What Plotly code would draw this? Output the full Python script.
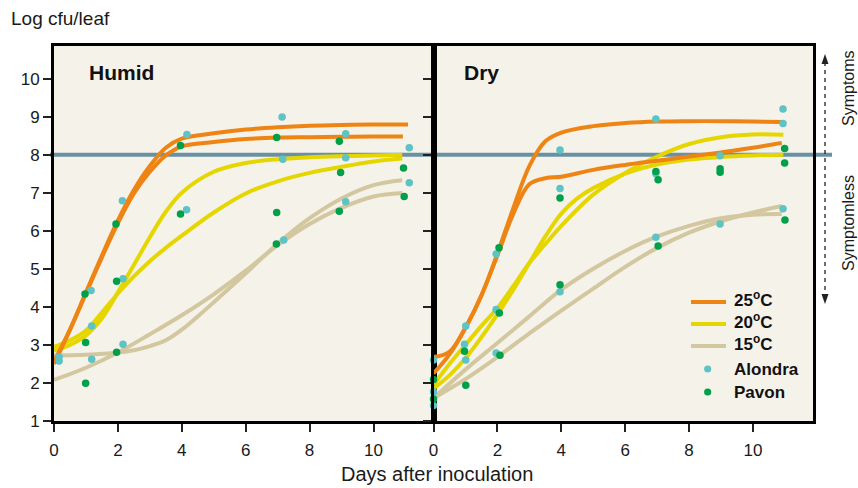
import plotly.graph_objects as go

# ---------------- data ----------------
# Humid panel: fitted curves (two per temperature)
humid_25a_x = [0, 0.5, 1, 1.5, 2, 2.5, 3, 3.5, 4, 5, 6, 7, 8, 9, 10, 11.08]
humid_25a_y = [2.5, 3.4, 4.38, 5.35, 6.27, 7.07, 7.7, 8.18, 8.42, 8.56, 8.66, 8.72, 8.76, 8.78, 8.79, 8.79]
humid_25b_x = [0, 0.5, 1, 1.5, 2, 2.5, 3, 3.5, 4, 5, 6, 7, 8, 9, 10, 10.92]
humid_25b_y = [2.55, 3.4, 4.35, 5.3, 6.2, 6.98, 7.55, 7.98, 8.22, 8.33, 8.41, 8.45, 8.46, 8.47, 8.48, 8.48]
humid_20a_x = [0, 0.5, 1, 1.5, 2, 2.5, 3, 3.5, 4, 5, 6, 7, 8, 9, 10, 10.9]
humid_20a_y = [2.85, 3.0, 3.25, 3.7, 4.38, 5.1, 5.83, 6.5, 7.0, 7.55, 7.78, 7.88, 7.93, 7.96, 7.98, 8.0]
humid_20b_x = [0, 0.5, 1, 1.5, 2, 2.5, 3, 3.5, 4, 5, 6, 7, 8, 9, 10, 10.9]
humid_20b_y = [2.95, 3.12, 3.38, 3.85, 4.35, 4.8, 5.2, 5.55, 5.87, 6.48, 6.98, 7.3, 7.52, 7.68, 7.82, 7.9]
humid_15a_x = [0, 1, 2, 2.5, 3, 3.5, 4, 4.5, 5, 6, 7, 8, 9, 10, 10.9]
humid_15a_y = [2.72, 2.74, 2.8, 2.86, 2.97, 3.12, 3.4, 3.75, 4.12, 4.88, 5.66, 6.33, 6.85, 7.2, 7.33]
humid_15b_x = [0, 1, 2, 3, 4, 5, 6, 7, 8, 9, 10, 10.9]
humid_15b_y = [2.08, 2.4, 2.8, 3.28, 3.78, 4.33, 4.95, 5.62, 6.18, 6.6, 6.9, 6.99]

# Dry panel: fitted curves
dry_25a_x = [0, 0.5, 1, 1.5, 2, 2.5, 3, 3.5, 4, 5, 6, 7, 8, 9, 10, 10.95]
dry_25a_y = [2.25, 2.75, 3.45, 4.3, 5.4, 6.6, 7.7, 8.35, 8.58, 8.75, 8.83, 8.87, 8.88, 8.88, 8.87, 8.86]
dry_25b_x = [0, 0.5, 1, 1.5, 2, 2.5, 3, 3.5, 4, 5, 6, 7, 8, 9, 10, 10.9]
dry_25b_y = [2.68, 2.82, 3.45, 4.3, 5.35, 6.45, 7.22, 7.38, 7.42, 7.6, 7.73, 7.84, 7.95, 8.06, 8.18, 8.31]
dry_20a_x = [0, 0.5, 1, 1.5, 2, 2.5, 3, 3.5, 4, 4.5, 5, 6, 7, 8, 9, 10, 10.95]
dry_20a_y = [1.85, 2.2, 2.65, 3.2, 3.8, 4.45, 5.15, 5.85, 6.45, 6.85, 7.12, 7.5, 7.74, 7.87, 7.94, 7.98, 8.0]
dry_20b_x = [0, 0.5, 1, 1.5, 2, 2.5, 3, 3.5, 4, 5, 6, 7, 8, 9, 10, 10.95]
dry_20b_y = [1.95, 2.5, 3.0, 3.5, 3.97, 4.55, 5.15, 5.65, 6.13, 6.95, 7.52, 7.95, 8.28, 8.46, 8.53, 8.52]
dry_15a_x = [0, 1, 2, 3, 4, 5, 6, 7, 8, 9, 10, 10.9]
dry_15a_y = [1.6, 2.35, 3.05, 3.75, 4.45, 5.0, 5.47, 5.85, 6.13, 6.33, 6.42, 6.44]
dry_15b_x = [0, 1, 2, 3, 4, 5, 6, 7, 8, 9, 10, 10.9]
dry_15b_y = [1.6, 2.1, 2.68, 3.3, 3.9, 4.48, 5.05, 5.55, 5.95, 6.25, 6.48, 6.65]

# Observations (days after inoculation as plotted, log cfu/leaf)
humid_alondra_x = [0.16, 0.16, 1.16, 1.18, 1.18, 2.14, 2.16, 2.16, 4.16, 4.15, 7.14, 7.16, 7.19, 9.13, 9.13, 9.13, 11.12, 11.12]
humid_alondra_y = [2.68, 2.58, 4.43, 3.5, 2.62, 6.79, 4.74, 3.02, 8.53, 6.55, 8.99, 7.88, 5.76, 8.55, 7.92, 6.76, 8.18, 7.26]
humid_pavon_x = [-0.02, -0.02, -0.02, 0.97, 0.99, 0.99, 1.94, 1.96, 1.96, 3.96, 3.96, 6.97, 6.97, 6.96, 8.93, 8.97, 8.93, 10.94, 10.96]
humid_pavon_y = [2.6, 2.42, 2.29, 4.34, 3.06, 1.99, 6.18, 4.67, 2.81, 8.24, 6.44, 8.45, 6.48, 5.65, 8.35, 7.53, 6.51, 7.65, 6.9]

dry_alondra_x = [0, 0, 0, 1.01, 0.97, 1.01, 1.96, 1.96, 1.96, 3.96, 3.96, 3.96, 6.96, 6.96, 6.96, 8.97, 8.97, 10.94, 10.94, 10.94]
dry_alondra_y = [2.6, 1.77, 1.41, 3.5, 3.02, 2.6, 5.39, 3.93, 2.79, 8.12, 7.11, 4.40, 8.94, 7.5, 5.83, 7.97, 6.18, 9.2, 8.82, 6.58]
dry_pavon_x = [0, 0, 0.97, 1.01, 2.05, 2.06, 2.08, 3.96, 3.96, 6.96, 7.03, 7.03, 8.97, 8.97, 10.99, 10.99, 11.0]
dry_pavon_y = [2.09, 1.58, 2.83, 1.94, 5.55, 3.84, 2.73, 6.86, 4.58, 7.56, 7.34, 5.6, 7.63, 7.54, 8.16, 7.78, 6.28]

threshold = 8.0
x_ticks = [0, 2, 4, 6, 8, 10]
y_ticks = [1, 2, 3, 4, 5, 6, 7, 8, 9, 10]
legend_labels = ["25<sup>o</sup>C", "20<sup>o</sup>C", "15<sup>o</sup>C", "Alondra", "Pavon"]

# ---------------- style ----------------
C25, C20, C15 = "#ee8413", "#e6d600", "#d3c7a0"
CALON, CPAV = "#5ec3c4", "#00a04a"
CBLUE = "#6a91a2"
FONT = "Liberation Sans, Arial, Helvetica, sans-serif"
TXT = "#1a1a1a"

W, H = 858, 488
ML, MR, MT, MB = 54, 45, 46, 67
PW, PH = W - ML - MR, H - MT - MB


def px(xp):
    return (xp - ML) / PW


def py(yp):
    return (H - MB - yp) / PH


fig = go.Figure()

panels = [
    ("x", "y", [(humid_25a_x, humid_25a_y, C25), (humid_25b_x, humid_25b_y, C25),
                (humid_20a_x, humid_20a_y, C20), (humid_20b_x, humid_20b_y, C20),
                (humid_15a_x, humid_15a_y, C15), (humid_15b_x, humid_15b_y, C15)],
     (humid_alondra_x, humid_alondra_y), (humid_pavon_x, humid_pavon_y)),
    ("x2", "y2", [(dry_25a_x, dry_25a_y, C25), (dry_25b_x, dry_25b_y, C25),
                  (dry_20a_x, dry_20a_y, C20), (dry_20b_x, dry_20b_y, C20),
                  (dry_15a_x, dry_15a_y, C15), (dry_15b_x, dry_15b_y, C15)],
     (dry_alondra_x, dry_alondra_y), (dry_pavon_x, dry_pavon_y)),
]

for xa, ya, curves, alon, pav in panels:
    # draw 15, then 20, then 25 on top
    for cx, cy, col in curves[::-1]:
        fig.add_trace(go.Scatter(x=cx, y=cy, mode="lines", xaxis=xa, yaxis=ya,
                                 line=dict(color=col, width=4, shape="spline", smoothing=1.0),
                                 showlegend=False, hoverinfo="skip"))
    fig.add_trace(go.Scatter(x=alon[0], y=alon[1], mode="markers", xaxis=xa, yaxis=ya,
                             marker=dict(color=CALON, size=7.5), cliponaxis=False,
                             showlegend=False, name="Alondra"))
    fig.add_trace(go.Scatter(x=pav[0], y=pav[1], mode="markers", xaxis=xa, yaxis=ya,
                             marker=dict(color=CPAV, size=7.5), cliponaxis=False,
                             showlegend=False, name="Pavon"))

xr = [0, (PW / 2) / 31.95]
yr = [1, 1 + PH / 38.05]

axis_common = dict(showline=True, linecolor="black", linewidth=3, mirror=True,
                   ticks="outside", ticklen=8, tickwidth=2, tickcolor="#222",
                   showgrid=False, zeroline=False,
                   tickfont=dict(family=FONT, size=17, color=TXT))

fig.update_layout(
    width=W, height=H,
    margin=dict(l=ML, r=MR, t=MT, b=MB),
    paper_bgcolor="white", plot_bgcolor="#f5f2ea",
    showlegend=False,
    xaxis=dict(domain=[0, 0.5], range=xr, tickvals=x_ticks, anchor="y",
               ticklabelstandoff=4, **axis_common),
    xaxis2=dict(domain=[0.5, 1], range=xr, tickvals=x_ticks, anchor="y2",
                ticklabelstandoff=4, **axis_common),
    yaxis=dict(range=yr, tickvals=y_ticks, anchor="x", **axis_common),
    yaxis2=dict(range=yr, tickvals=y_ticks, anchor="x2", showticklabels=False, **axis_common),
)

shapes = []
# symptom threshold line
shapes.append(dict(type="line", xref="paper", yref="y", x0=px(50), x1=px(832),
                   y0=threshold, y1=threshold, line=dict(color=CBLUE, width=4), layer="below"))
# dashed double arrow
shapes.append(dict(type="line", xref="paper", yref="paper", x0=px(825), x1=px(825),
                   y0=py(62), y1=py(297), line=dict(color="#222", width=1.3, dash="4px,4px")))
shapes.append(dict(type="path", xref="paper", yref="paper",
                   path=f"M {px(825)},{py(54)} L {px(821.5)},{py(64)} L {px(828.5)},{py(64)} Z",
                   fillcolor="#222", line=dict(width=0)))
shapes.append(dict(type="path", xref="paper", yref="paper",
                   path=f"M {px(825)},{py(304)} L {px(821.5)},{py(294)} L {px(828.5)},{py(294)} Z",
                   fillcolor="#222", line=dict(width=0)))

# manual legend
leg_line_y = [302, 324, 346]
for col, yy in zip([C25, C20, C15], leg_line_y):
    shapes.append(dict(type="line", xref="paper", yref="paper", x0=px(691), x1=px(726),
                       y0=py(yy), y1=py(yy), line=dict(color=col, width=4)))
for col, yy in zip([CALON, CPAV], [369, 392]):
    r = 3.6
    shapes.append(dict(type="circle", xref="paper", yref="paper",
                       x0=px(707.7 - r), x1=px(707.7 + r), y0=py(yy + r), y1=py(yy - r),
                       fillcolor=col, line=dict(width=0)))
fig.update_layout(shapes=shapes)

ann = []
ann.append(dict(text="Log cfu/leaf", xref="paper", yref="paper", x=px(9), y=py(18),
                xanchor="left", yanchor="middle", showarrow=False,
                font=dict(family=FONT, size=19, color=TXT)))
ann.append(dict(text="Days after inoculation", xref="paper", yref="paper", x=px(437), y=py(474),
                xanchor="center", yanchor="middle", showarrow=False,
                font=dict(family=FONT, size=20, color=TXT)))
ann.append(dict(text="<b>Humid</b>", xref="paper", yref="paper", x=px(87), y=py(72),
                xanchor="left", yanchor="middle", showarrow=False,
                font=dict(family=FONT, size=21, color="#111")))
ann.append(dict(text="<b>Dry</b>", xref="paper", yref="paper", x=px(462), y=py(72),
                xanchor="left", yanchor="middle", showarrow=False,
                font=dict(family=FONT, size=21, color="#111")))
ann.append(dict(text="Symptoms", xref="paper", yref="paper", x=px(848), y=py(88),
                xanchor="center", yanchor="middle", textangle=-90, showarrow=False,
                font=dict(family=FONT, size=16, color=TXT)))
ann.append(dict(text="Symptomless", xref="paper", yref="paper", x=px(848), y=py(223),
                xanchor="center", yanchor="middle", textangle=-90, showarrow=False,
                font=dict(family=FONT, size=16, color=TXT)))
for lab, yy in zip(legend_labels, [299, 321, 343, 369, 392]):
    ann.append(dict(text=f"<b>{lab}</b>", xref="paper", yref="paper", x=px(732), y=py(yy),
                    xanchor="left", yanchor="middle", showarrow=False,
                    font=dict(family=FONT, size=17, color="#111")))
fig.update_layout(annotations=ann)

fig.write_html("out.html",
               config={"displayModeBar": False},
               post_script="document.body.style.margin='0';document.body.style.overflow='hidden';")
